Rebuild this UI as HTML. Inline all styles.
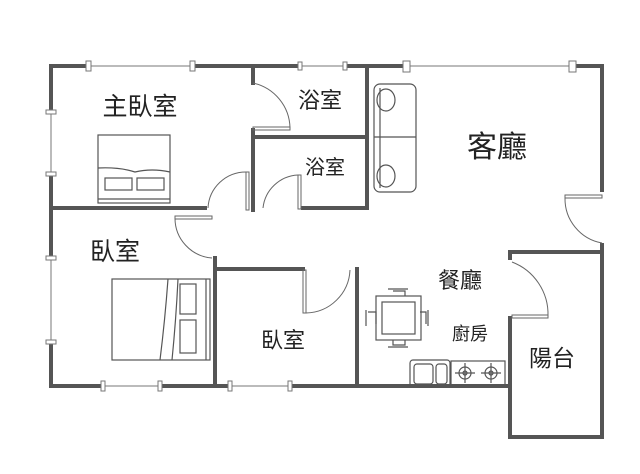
<!DOCTYPE html>
<html><head><meta charset="utf-8"><style>
body{margin:0;background:#fff;width:640px;height:474px;overflow:hidden}
svg{display:block}
text{font-family:"Liberation Sans","Noto Sans CJK TC",sans-serif;fill:#222}
</style></head><body>
<svg width="640" height="474" viewBox="0 0 640 474" xmlns="http://www.w3.org/2000/svg">
<g stroke="#555" stroke-width="4" fill="none" stroke-linecap="square">
<path d="M51 112 V66 H88 M193 66 H300 M345 66 H405 M573 66 H602 V190"/>
<path d="M51 174 V258 M51 342 V386 H103 M160 386 H230 M290 386 H510"/>
<path d="M602 245 V437 H510 V318 M510 258 V252 H602"/>
<path d="M51 208 H205"/>
<path d="M253 66 V83 M253 130 V210"/>
<path d="M253 137 H365"/>
<path d="M367 66 V208"/>
<path d="M303 208 H367"/>
<path d="M215 258 V386"/>
<path d="M215 269 H303"/>
<path d="M357 269 V386"/>
</g>
<g stroke="#777" stroke-width="1" fill="#fff">
<path d="M88 66 H193 M300 66 H345 M405 66 H573 M51 112 V174 M51 258 V342 M103 386 H160 M230 386 H290"/>
<rect x="86" y="61" width="5" height="10"/><rect x="190" y="61" width="5" height="10"/>
<rect x="298" y="62" width="4" height="8"/><rect x="343" y="62" width="4" height="8"/>
<rect x="403" y="61" width="7" height="11"/><rect x="569" y="61" width="7" height="11"/>
<rect x="46" y="110" width="10" height="4"/><rect x="46" y="172" width="10" height="4"/>
<rect x="46" y="256" width="10" height="4"/><rect x="46" y="340" width="10" height="4"/>
<rect x="101" y="381" width="4" height="10"/><rect x="158" y="381" width="4" height="10"/>
<rect x="228" y="381" width="4" height="10"/><rect x="288" y="381" width="4" height="10"/>
</g>
<g stroke="#666" stroke-width="1" fill="none">
<path d="M253 83 A47 47 0 0 1 290 128"/><rect x="253" y="127" width="37" height="3"/>
<path d="M208 208 A38 38 0 0 1 246 172"/><rect x="246" y="172" width="3" height="38"/>
<path d="M263 208 A37 37 0 0 1 298 175"/><rect x="298" y="175" width="3" height="34"/>
<path d="M175 218 A40 40 0 0 0 212 258"/><rect x="175" y="216" width="37" height="3"/>
<path d="M565 198 A45 45 0 0 0 602 243"/><rect x="565" y="195" width="37" height="3"/>
<path d="M350 270 A45 45 0 0 1 306 313"/><rect x="303" y="270" width="3" height="43"/>
<path d="M512 262 A56 56 0 0 1 548 316"/><rect x="512" y="315" width="36" height="3"/>
</g>
<g stroke="#555" stroke-width="1.2" fill="none">
<rect x="98" y="135" width="72" height="68"/>
<path d="M98 168 Q120 167 135 172 Q152 168 170 172 M98 199 H170"/>
<rect x="105" y="178" width="27" height="12"/><rect x="137" y="178" width="27" height="12"/>
<rect x="112" y="279" width="98" height="81"/>
<path d="M168 279 Q165 320 160 360 M178 279 Q176 320 172 360 M206 279 V360"/>
<rect x="180" y="284" width="16" height="30"/><rect x="180" y="320" width="16" height="33"/>
<rect x="374" y="84" width="42" height="108" rx="6"/>
<path d="M380 88 V188 M374 137 H416"/>
<ellipse cx="386" cy="100" rx="9" ry="11"/><ellipse cx="386" cy="176" rx="9" ry="11"/>
<rect x="376" y="296" width="45" height="44"/><rect x="382" y="302" width="33" height="32"/>
<path d="M388 289 H408 M393 291 H405 V296 M388 347 H408 M393 340 V345 H405 V340 M366 310 V326 M368 312 H376 V324 M428 310 V326 M420 312 H426 V324"/>
<rect x="410" y="360" width="40" height="27" rx="3"/><rect x="414" y="364" width="19" height="20" rx="3"/><rect x="436" y="364" width="11" height="20" rx="3"/>
<rect x="451" y="361" width="54" height="25"/>
<circle cx="465" cy="373" r="6"/><circle cx="465" cy="373" r="2"/><circle cx="491" cy="373" r="6"/><circle cx="491" cy="373" r="2"/>
<path d="M455 373 H475 M465 363 V383 M481 373 H501 M491 363 V383"/>
</g>
<text x="140" y="115" font-size="25" text-anchor="middle">主臥室</text>
<text x="320" y="108" font-size="22" text-anchor="middle">浴室</text>
<text x="325" y="174" font-size="20" text-anchor="middle">浴室</text>
<text x="497" y="157" font-size="30" text-anchor="middle">客廳</text>
<text x="115" y="260" font-size="25" text-anchor="middle">臥室</text>
<text x="460" y="288" font-size="22" text-anchor="middle">餐廳</text>
<text x="470" y="340" font-size="18" text-anchor="middle">廚房</text>
<text x="283" y="348" font-size="22" text-anchor="middle">臥室</text>
<text x="552" y="366" font-size="23" text-anchor="middle">陽台</text>
</svg>
</body></html>
